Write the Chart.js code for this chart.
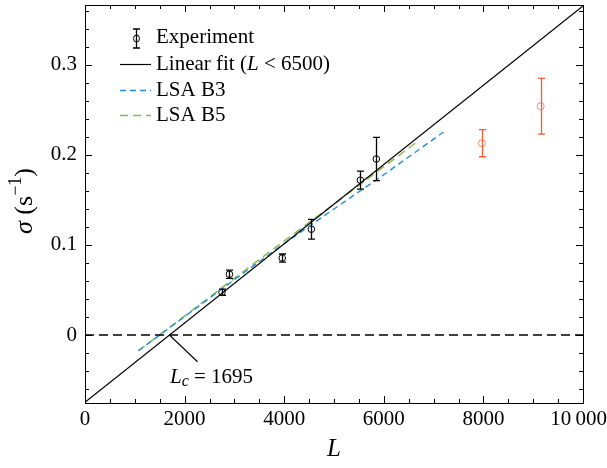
<!DOCTYPE html>
<html>
<head>
<meta charset="utf-8">
<script src="https://cdn.jsdelivr.net/npm/chart.js@4"></script>
<style>
html, body { margin: 0; padding: 0; background: #fff; }
</style>
</head>
<body>
<canvas id="sigmaChart" width="607" height="468"></canvas>
<script>
// experiment (used in fit)
const expL = [2750, 2900, 3960, 4545, 5530, 5850];
const expSigma = [0.0475, 0.0675, 0.0855, 0.1175, 0.172, 0.1955];
const expErr = [0.0035, 0.0045, 0.0045, 0.011, 0.010, 0.024];
// experiment above L = 6500 (orange)
const highL = [7970, 9150];
const highSigma = [0.213, 0.254];
const highErr = [0.015, 0.031];
// linear fit
const fitL = [0, 10000];
const fitSigma = [-0.0746, 0.3654];
const Lc = 1695;
// LSA curves
const b3L = [1070, 2000, 3000, 4000, 5000, 6000, 7200];
const b3Sigma = [-0.0175, 0.0205, 0.0615, 0.1015, 0.140, 0.178, 0.2255];
const b5L = [1070, 2000, 3000, 4000, 5000, 6000, 6690];
const b5Sigma = [-0.0175, 0.021, 0.063, 0.1045, 0.1455, 0.187, 0.2155];
// ticks
const xMajor = [0, 2000, 4000, 6000, 8000, 10000];
const xLabels = ["0", "2000", "4000", "6000", "8000", "10\u2009000"];
const yMajor = [0, 0.1, 0.2, 0.3];
const yLabels = ["0", "0.1", "0.2", "0.3"];

const ORANGE = "rgb(232,98,52)";
const BLUE = "rgb(34,140,218)";
const GREEN = "rgb(140,186,72)";
const SERIF = "'Liberation Serif', 'DejaVu Serif', serif";

const pts = (xs, ys) => xs.map((v, i) => ({ x: v, y: ys[i] }));

function richText(ctx, parts, x, y, align) {
    // parts: [text, font, dy]
    let w = 0;
    parts.forEach(p => { ctx.font = p[1]; w += ctx.measureText(p[0]).width; });
    let cx = align === "center" ? x - w / 2 : x;
    parts.forEach(p => {
        ctx.font = p[1];
        ctx.fillText(p[0], cx, y + (p[2] || 0));
        cx += ctx.measureText(p[0]).width;
    });
}

const extras = {
    id: "extras",
    afterDatasetsDraw(chart) {
        const { ctx, chartArea: a, scales: { x, y } } = chart;
        ctx.save();

        // error bars
        function bars(Ls, S, E, color) {
            ctx.strokeStyle = color;
            ctx.lineWidth = 1.3;
            Ls.forEach((L, i) => {
                const px = Math.round(x.getPixelForValue(L)) + 0.5;
                const top = y.getPixelForValue(S[i] + E[i]);
                const bot = y.getPixelForValue(S[i] - E[i]);
                ctx.beginPath();
                ctx.moveTo(px, top); ctx.lineTo(px, bot);
                ctx.moveTo(px - 3.5, top); ctx.lineTo(px + 3.5, top);
                ctx.moveTo(px - 3.5, bot); ctx.lineTo(px + 3.5, bot);
                ctx.stroke();
            });
        }
        bars(expL, expSigma, expErr, "#000");
        bars(highL, highSigma, highErr, ORANGE);

        // frame
        ctx.strokeStyle = "#000";
        ctx.lineWidth = 1;
        ctx.strokeRect(Math.round(a.left) + 0.5, Math.round(a.top) + 0.5,
            Math.round(a.right - a.left), Math.round(a.bottom - a.top));

        // inward ticks on all sides
        ctx.beginPath();
        for (let v = 0; v <= 10000; v += 500) {
            const px = Math.round(x.getPixelForValue(v)) + 0.5;
            const len = v % 2000 === 0 ? 7 : 4;
            ctx.moveTo(px, a.bottom); ctx.lineTo(px, a.bottom - len);
            ctx.moveTo(px, a.top); ctx.lineTo(px, a.top + len);
        }
        for (let k = -3; k <= 18; k++) {
            const v = k * 0.02;
            if (v < y.min || v > y.max) continue;
            const py = Math.round(y.getPixelForValue(v)) + 0.5;
            const len = k % 5 === 0 ? 7 : 4;
            ctx.moveTo(a.left, py); ctx.lineTo(a.left + len, py);
            ctx.moveTo(a.right, py); ctx.lineTo(a.right - len, py);
        }
        ctx.stroke();

        // tick labels
        ctx.fillStyle = "#000";
        ctx.font = "21px " + SERIF;
        ctx.textBaseline = "middle";
        ctx.textAlign = "center";
        xMajor.forEach((v, i) => {
            const w = ctx.measureText(xLabels[i]).width;
            const cx = Math.min(x.getPixelForValue(v), chart.width - w / 2);
            ctx.fillText(xLabels[i], cx, a.bottom + 16);
        });
        ctx.textAlign = "right";
        yMajor.forEach((v, i) => ctx.fillText(yLabels[i], a.left - 8, y.getPixelForValue(v)));

        // axis titles
        ctx.textAlign = "left";
        richText(ctx, [["L", "italic 25px " + SERIF]], (a.left + a.right) / 2, a.bottom + 46, "center");
        ctx.save();
        ctx.translate(25, 201);
        ctx.rotate(-Math.PI / 2);
        richText(ctx, [
            ["\u03c3", "italic 26px " + SERIF],
            [" (s", "26px " + SERIF],
            ["\u22121", "18px " + SERIF, -9],
            [")", "26px " + SERIF]
        ], 0, 0, "center");
        ctx.restore();

        // Lc annotation text
        richText(ctx, [
            ["L", "italic 21px " + SERIF],
            ["c", "italic 16px " + SERIF, 5],
            [" = " + Lc, "21px " + SERIF]
        ], 170, 377, "left");

        // legend
        const lx0 = 120, lx1 = 151, tx = 156;
        const rows = [37, 64, 90, 115];
        ctx.font = "21px " + SERIF;
        ctx.fillText("Experiment", tx, rows[0]);
        richText(ctx, [
            ["Linear fit (", "21px " + SERIF],
            ["L", "italic 21px " + SERIF],
            [" < 6500)", "21px " + SERIF]
        ], tx, rows[1], "left");
        ctx.font = "21px " + SERIF;
        ctx.fillText("LSA B3", tx, rows[2]);
        ctx.fillText("LSA B5", tx, rows[3]);

        ctx.strokeStyle = "#000";
        ctx.lineWidth = 1.3;
        ctx.beginPath();
        ctx.moveTo(136.5, 29); ctx.lineTo(136.5, 48);
        ctx.moveTo(133, 29); ctx.lineTo(140, 29);
        ctx.moveTo(133, 48); ctx.lineTo(140, 48);
        ctx.stroke();
        ctx.lineWidth = 1;
        ctx.beginPath();
        ctx.ellipse(136.5, 38.5, 3, 3.5, 0, 0, 2 * Math.PI);
        ctx.stroke();
        ctx.lineWidth = 1.2;
        ctx.beginPath();
        ctx.moveTo(lx0, rows[1] + 0.5); ctx.lineTo(lx1, rows[1] + 0.5);
        ctx.stroke();
        ctx.lineWidth = 1.5;
        ctx.setLineDash([6, 4]);
        ctx.strokeStyle = BLUE;
        ctx.beginPath();
        ctx.moveTo(lx0, rows[2] + 0.5); ctx.lineTo(lx1, rows[2] + 0.5);
        ctx.stroke();
        ctx.setLineDash([8, 5]);
        ctx.strokeStyle = GREEN;
        ctx.beginPath();
        ctx.moveTo(lx0, rows[3] + 0.5); ctx.lineTo(lx1, rows[3] + 0.5);
        ctx.stroke();

        ctx.restore();
    }
};

new Chart(document.getElementById("sigmaChart"), {
    type: "scatter",
    data: {
        datasets: [
            {
                data: pts(fitL, fitSigma), showLine: true,
                borderColor: "#000", borderWidth: 1.2, pointRadius: 0
            },
            {
                data: pts([0, 10000], [0, 0]), showLine: true,
                borderColor: "#000", borderWidth: 1.3, borderDash: [9, 5], pointRadius: 0
            },
            {
                data: pts(b3L, b3Sigma), showLine: true,
                borderColor: BLUE, borderWidth: 1.4, borderDash: [6, 4], pointRadius: 0
            },
            {
                data: pts(b5L, b5Sigma), showLine: true,
                borderColor: GREEN, borderWidth: 1.5, borderDash: [8, 5], pointRadius: 0
            },
            {
                // leader for the Lc label
                data: pts([Lc, 2260], [0, -0.0297]), showLine: true,
                borderColor: "#000", borderWidth: 1.1, pointRadius: 0
            },
            {
                data: pts(expL, expSigma),
                pointStyle: "circle", pointRadius: 3.3, borderWidth: 1,
                borderColor: "#000", backgroundColor: "rgba(0,0,0,0)"
            },
            {
                data: pts(highL, highSigma),
                pointStyle: "circle", pointRadius: 3.5, borderWidth: 1,
                borderColor: "rgba(232,98,52,0.7)", backgroundColor: "rgba(0,0,0,0)"
            }
        ]
    },
    options: {
        responsive: false,
        animation: false,
        layout: { padding: { left: 85, right: 24, top: 5, bottom: 65 } },
        plugins: { legend: { display: false }, tooltip: { enabled: false } },
        scales: {
            x: { type: "linear", min: 0, max: 10000, display: false },
            y: { type: "linear", min: -0.0755, max: 0.3665, display: false }
        }
    },
    plugins: [extras]
});
</script>
</body>
</html>
